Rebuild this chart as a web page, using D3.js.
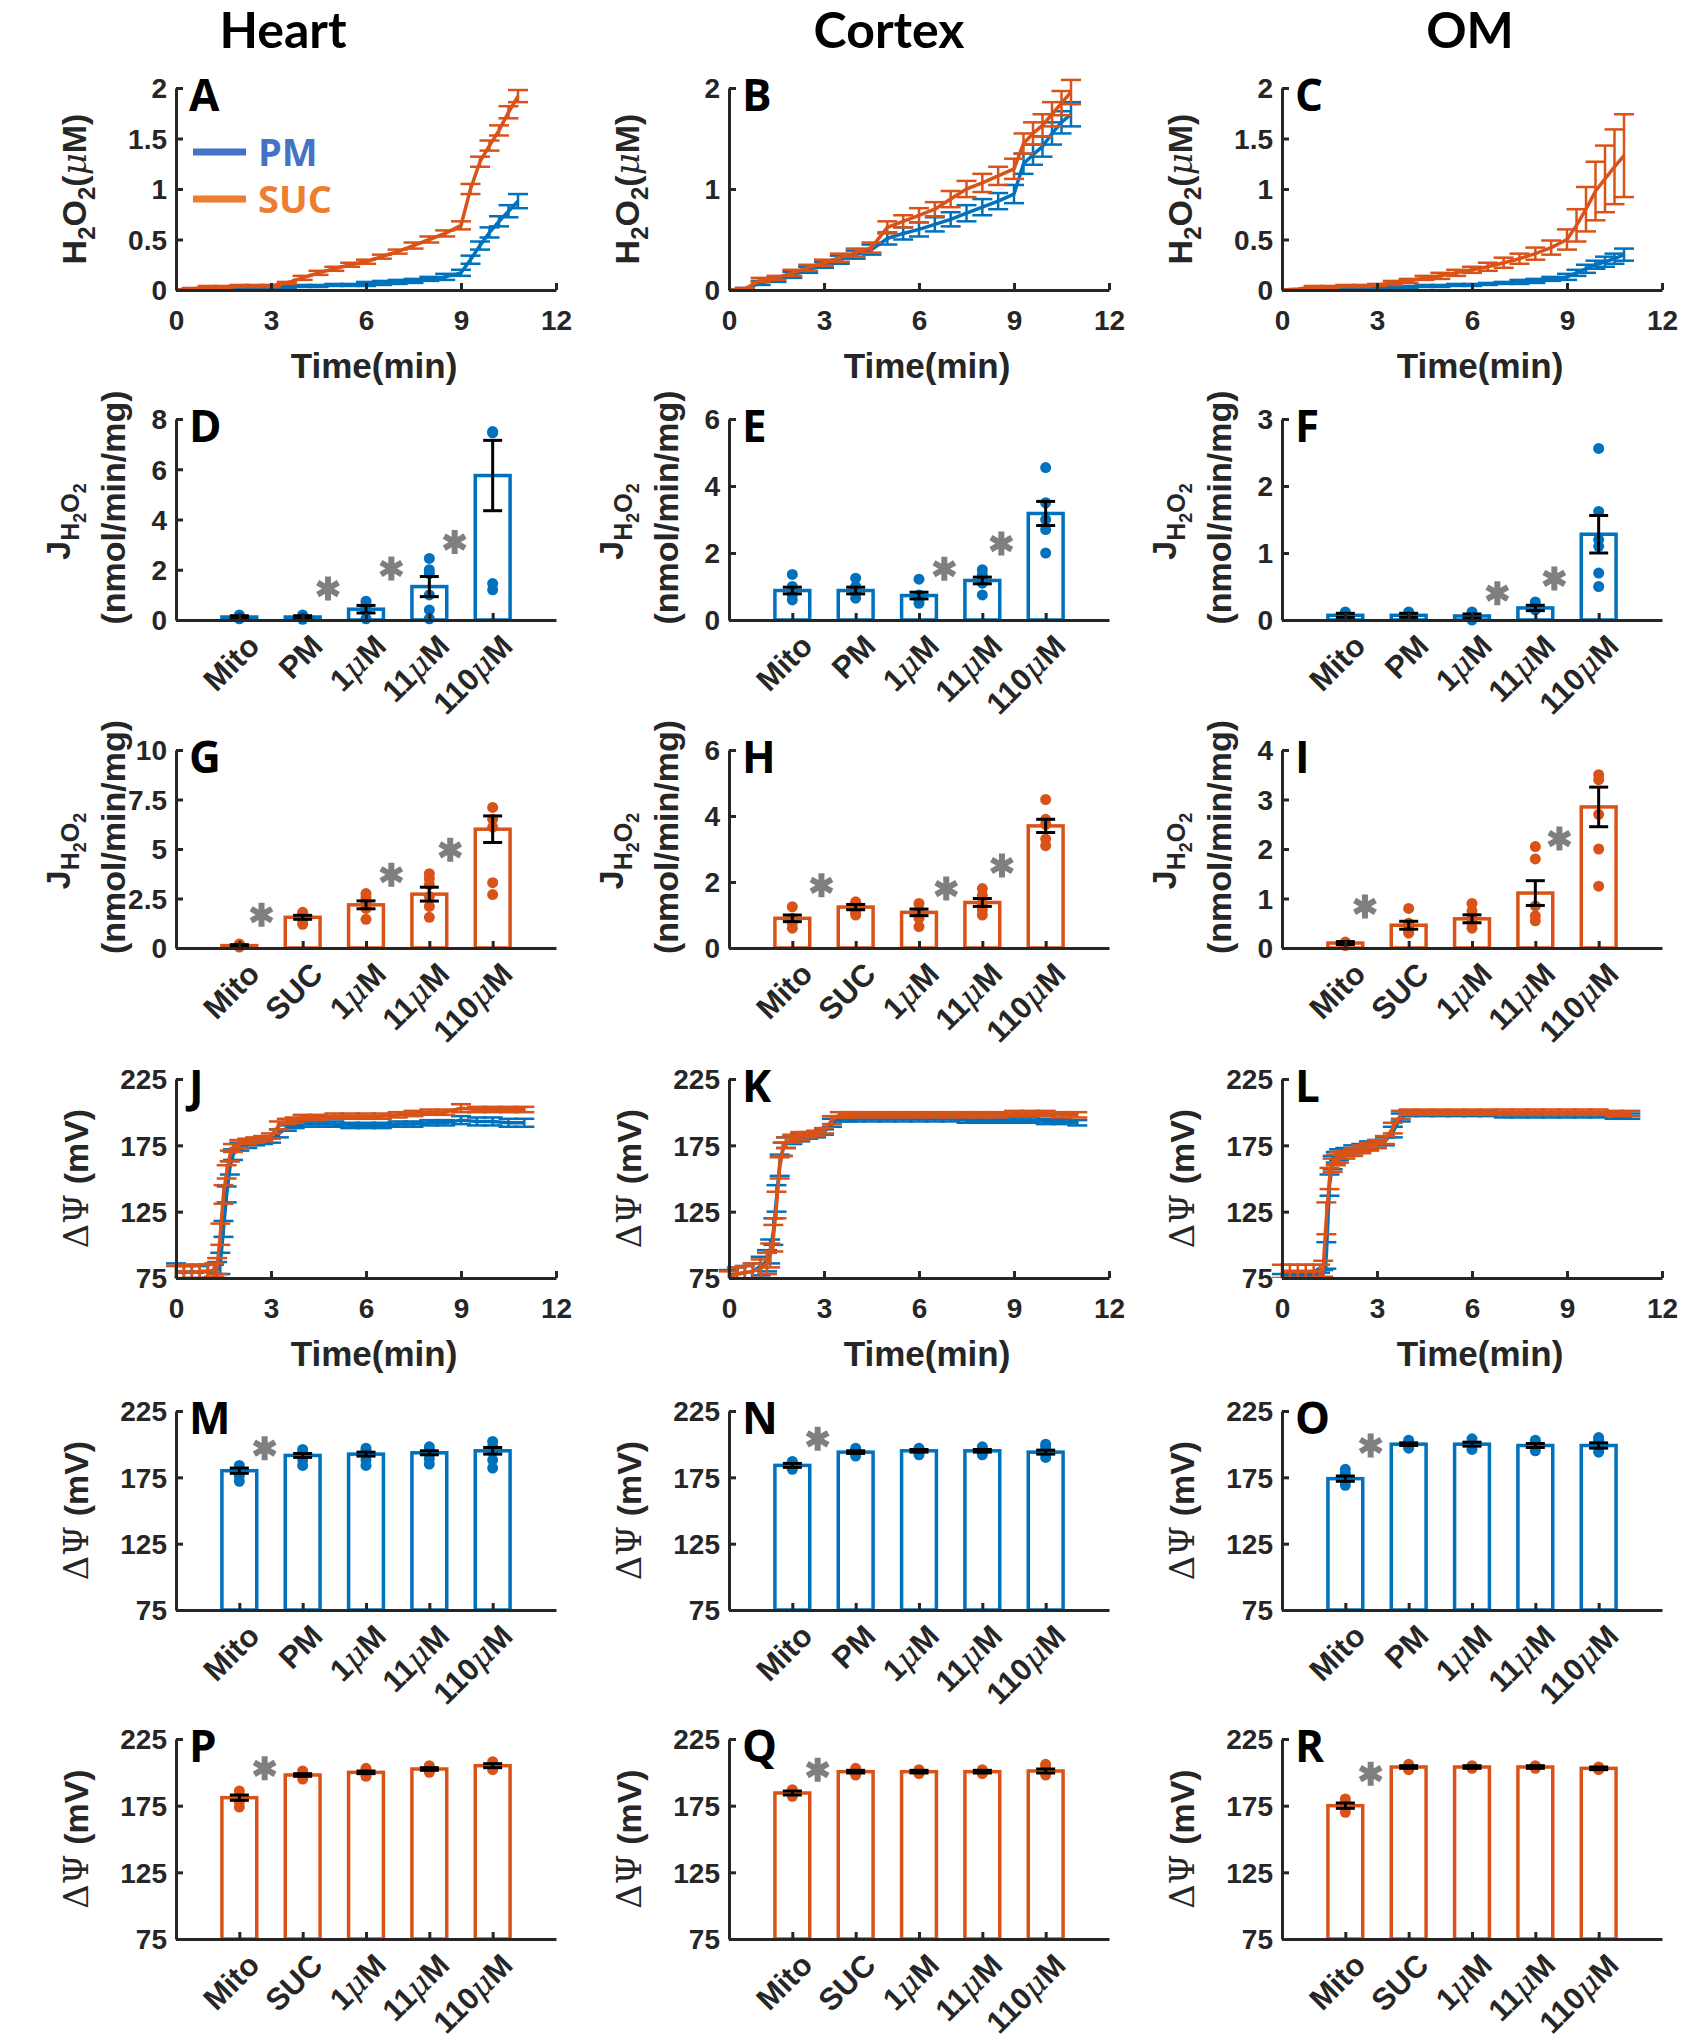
<!DOCTYPE html>
<html><head><meta charset="utf-8">
<script src="https://cdn.jsdelivr.net/npm/d3@7"></script>
<style>body{margin:0;background:#fff}</style>
</head><body>
<svg id="fig" width="1684" height="2040"></svg>
<script>
// ---------------- DATA ----------------
const columnTitles = ["Heart", "Cortex", "OM"];
const catsPM = ["Mito", "PM", "1μM", "11μM", "110μM"];
const catsSUC = ["Mito", "SUC", "1μM", "11μM", "110μM"];
const legendLabels = ["PM", "SUC"];

const lineTime = [0,0.5,1,1.5,2,2.5,3,3.5,4,4.5,5,5.5,6,6.5,7,7.5,8,8.5,9,9.3,9.6,9.9,10.2,10.5,10.8];
const heartPM     = [0,0,0.01,0.02,0.02,0.02,0.03,0.03,0.04,0.04,0.05,0.05,0.06,0.07,0.08,0.09,0.11,0.13,0.17,0.3,0.44,0.57,0.68,0.78,0.88];
const heartPMerr  = [0,0.01,0.01,0.01,0.01,0.01,0.01,0.01,0.01,0.01,0.01,0.01,0.02,0.02,0.02,0.02,0.02,0.03,0.03,0.04,0.04,0.05,0.05,0.06,0.07];
const heartSUC    = [0,0.01,0.03,0.03,0.04,0.04,0.04,0.07,0.12,0.17,0.21,0.25,0.28,0.33,0.38,0.44,0.5,0.56,0.64,1.0,1.27,1.43,1.58,1.76,1.92];
const heartSUCerr = [0,0.01,0.01,0.01,0.01,0.01,0.01,0.01,0.02,0.02,0.02,0.02,0.02,0.02,0.02,0.03,0.03,0.03,0.04,0.05,0.05,0.05,0.05,0.06,0.06];
const cortexPM     = [0,0.01,0.07,0.1,0.15,0.2,0.25,0.3,0.35,0.4,0.51,0.56,0.6,0.65,0.7,0.76,0.82,0.88,0.95,1.25,1.34,1.42,1.55,1.66,1.74];
const cortexPMerr  = [0,0.01,0.02,0.02,0.03,0.03,0.03,0.04,0.04,0.05,0.06,0.06,0.07,0.07,0.07,0.08,0.08,0.08,0.09,0.1,0.1,0.1,0.11,0.11,0.12];
const cortexSUC    = [0,0.01,0.1,0.12,0.17,0.22,0.27,0.32,0.37,0.42,0.62,0.68,0.74,0.8,0.9,1.0,1.06,1.13,1.2,1.45,1.55,1.63,1.74,1.85,1.96];
const cortexSUCerr = [0,0.01,0.02,0.02,0.03,0.03,0.03,0.04,0.04,0.05,0.06,0.06,0.07,0.07,0.08,0.08,0.09,0.09,0.1,0.1,0.11,0.11,0.12,0.12,0.12];
const omPM     = [0,0,0,0.01,0.01,0.02,0.02,0.03,0.03,0.04,0.04,0.05,0.05,0.06,0.07,0.08,0.09,0.11,0.13,0.17,0.21,0.25,0.28,0.31,0.35];
const omPMerr  = [0,0,0,0,0,0,0.01,0.01,0.01,0.01,0.01,0.01,0.01,0.01,0.01,0.02,0.02,0.02,0.03,0.03,0.04,0.04,0.05,0.05,0.06];
const omSUC    = [0,0.01,0.03,0.03,0.04,0.04,0.05,0.07,0.09,0.12,0.14,0.17,0.2,0.23,0.27,0.31,0.36,0.42,0.5,0.64,0.8,0.98,1.1,1.22,1.33];
const omSUCerr = [0,0,0.01,0.01,0.01,0.01,0.01,0.02,0.02,0.02,0.03,0.03,0.03,0.04,0.05,0.05,0.06,0.07,0.1,0.16,0.22,0.29,0.33,0.37,0.41];

const psiTime = [0,0.25,0.5,0.75,1,1.2,1.3,1.4,1.5,1.6,1.7,1.8,2,2.25,2.5,2.75,3,3.25,3.5,3.75,4,4.5,5,5.5,6,6.5,7,7.5,8,8.5,9,9.5,10,10.5,11];
const heartPsiPM     = [80,79,80,79,80,80,81,86,112,138,158,168,174,176,177,178,179,184,188,190,191,191,191,190,190,190,191,191,192,192,194,193,193,192,192];
const heartPsiPMerr  = [6,5,5,5,5,5,6,8,6,6,5,4,3,3,2,2,2,3,2,2,2,2,2,2,2,2,2,2,2,2,3,3,3,3,3];
const heartPsiSUC    = [79,80,79,80,80,81,84,108,138,155,167,173,176,178,179,180,182,190,193,194,196,196,197,197,197,197,198,199,200,200,203,202,202,202,202];
const heartPsiSUCerr = [5,5,5,5,5,5,6,8,7,5,4,3,3,2,2,2,2,3,2,2,2,2,2,2,2,2,2,2,2,2,3,2,2,2,2];
const cortexPsiPM     = [77,78,79,80,84,88,95,110,135,160,172,177,179,181,182,183,185,192,195,195,195,195,195,195,195,195,195,194,194,194,194,194,193,193,192];
const cortexPsiPMerr  = [4,5,5,6,7,8,9,10,10,8,5,4,3,3,2,2,2,3,2,2,2,2,2,2,2,2,2,2,2,2,2,2,2,2,2];
const cortexPsiSUC    = [76,78,79,80,82,86,92,105,130,158,172,177,180,182,183,184,186,194,198,198,198,198,198,198,198,198,198,198,198,198,199,199,199,198,198];
const cortexPsiSUCerr = [4,5,5,6,7,8,9,10,10,8,5,4,3,3,2,2,2,3,2,2,2,2,2,2,2,2,2,2,2,2,2,2,2,2,2];
const omPsiPM     = [76,76,76,76,77,77,78,92,145,162,166,168,170,172,173,175,176,178,185,196,199,199,199,199,199,199,198,198,198,198,198,198,198,197,197];
const omPsiPMerr  = [2,2,2,2,2,2,3,10,8,5,4,4,3,3,3,3,3,3,4,3,2,2,2,2,2,2,2,2,2,2,2,2,2,2,2];
const omPsiSUC    = [80,80,80,80,80,80,82,120,150,160,164,166,168,170,172,174,176,179,188,198,200,200,200,200,200,200,200,200,200,200,200,200,200,199,199];
const omPsiSUCerr = [5,5,5,5,5,5,6,12,8,5,4,4,3,3,3,3,3,3,4,3,2,2,2,2,2,2,2,2,2,2,2,2,2,2,2];

// Bar panels: means, SEM, individual points, significance stars (x,y in data units)
const rateHeartPM = [0.12,0.12,0.43,1.33,5.75];
const rateHeartPMerr = [0.05,0.05,0.15,0.4,1.4];
const rateHeartPMdots = [[0.05,0.12,0.2],[0.03,0.1,0.2],[0.05,0.35,0.5,0.6,0.75],[0.05,0.4,1.0,1.85,2.0,2.45],[7.5,7.45,1.45,1.2]];
const starHeartPMx = [2.4,3.4,4.4], starHeartPMy = [1.25,2.05,3.1];

const rateCortexPM = [0.88,0.88,0.73,1.18,3.18];
const rateCortexPMerr = [0.1,0.1,0.1,0.1,0.36];
const rateCortexPMdots = [[0.6,0.75,0.85,1.0,1.36],[0.65,0.8,0.9,1.0,1.25],[0.5,0.6,0.7,0.75,1.22],[0.75,1.1,1.2,1.35,1.5],[2.0,2.7,3.0,3.5,4.55]];
const starCortexPMx = [3.4,4.3], starCortexPMy = [1.53,2.28];

const rateOmPM = [0.07,0.07,0.06,0.18,1.28];
const rateOmPMerr = [0.03,0.03,0.03,0.04,0.28];
const rateOmPMdots = [[0.05,0.08,0.12],[0.05,0.08,0.12],[0.0,0.05,0.12],[0.15,0.2,0.27],[0.5,0.7,1.1,1.2,1.62,2.56]];
const starOmPMx = [3.4,4.3], starOmPMy = [0.4,0.62];

const rateHeartSUC = [0.12,1.55,2.18,2.72,6.0];
const rateHeartSUCerr = [0.05,0.1,0.2,0.35,0.67];
const rateHeartSUCdots = [[0.05,0.15,0.2],[1.2,1.4,1.55,1.7,1.8],[1.45,2.0,2.3,2.55,2.75],[1.55,2.1,2.6,3.2,3.5,3.75],[2.7,3.3,6.1,6.5,7.1]];
const starHeartSUCx = [1.35,3.4,4.33], starHeartSUCy = [1.68,3.7,4.96];

const rateCortexSUC = [0.9,1.24,1.08,1.38,3.7];
const rateCortexSUCerr = [0.1,0.08,0.1,0.12,0.2];
const rateCortexSUCdots = [[0.6,0.75,0.85,0.9,1.25],[1.0,1.1,1.2,1.3,1.4],[0.65,0.9,1.0,1.15,1.35],[1.0,1.15,1.35,1.6,1.8],[3.1,3.3,3.75,3.9,4.5]];
const starCortexSUCx = [1.46,3.43,4.31], starCortexSUCy = [1.9,1.8,2.5];

const rateOmSUC = [0.1,0.46,0.59,1.11,2.85];
const rateOmSUCerr = [0.03,0.08,0.08,0.25,0.4];
const rateOmSUCdots = [[0.05,0.1,0.12],[0.3,0.35,0.45,0.5,0.8],[0.4,0.5,0.6,0.75,0.9],[0.55,0.65,0.85,1.8,2.05],[1.25,2.0,2.7,3.4,3.5]];
const starOmSUCx = [1.31,4.38], starOmSUCy = [0.84,2.21];

const psiHeartPM = [180,191.5,192.5,193.5,195];
const psiHeartPMerr = [2,1.5,1.5,1.5,2.5];
const psiHeartPMdots = [[172,176,180,184],[184,188,191,193,196],[184,188,192,195,197],[185,189,193,196,198],[182,188,194,198,202]];
const starPsiHeartPMx = [1.4], starPsiHeartPMy = [197];

const psiCortexPM = [184,194,195,195,194];
const psiCortexPMerr = [1.5,1,1,1,1.5];
const psiCortexPMdots = [[181,183,185,187],[191,193,195,197],[192,194,196,197],[192,194,196,198],[190,193,195,198,200]];
const starPsiCortexPMx = [1.4], starPsiCortexPMy = [204];

const psiOmPM = [174,200,200,199,199];
const psiOmPMerr = [2,1,1.5,1.5,2];
const psiOmPMdots = [[169,172,175,178,181],[197,199,201,203],[196,199,201,204],[195,198,201,203],[194,197,200,203,205]];
const starPsiOmPMx = [1.4], starPsiOmPMy = [199];

const psiHeartSUC = [181,198,200,202.5,205];
const psiHeartSUCerr = [2,1,1,1,1.5];
const psiHeartSUCdots = [[174,178,182,186],[195,198,201],[197,200,203],[200,202.5,205],[202,205,208]];
const starPsiHeartSUCx = [1.4], starPsiHeartSUCy = [203];

const psiCortexSUC = [184.5,200.5,200.5,200.5,201];
const psiCortexSUCerr = [1.5,1,1,1,1.5];
const psiCortexSUCdots = [[182,184.5,187],[198,200.5,203],[199,200.5,202],[199,200.5,202],[198,201,204,206]];
const starPsiCortexSUCx = [1.4], starPsiCortexSUCy = [202];

const psiOmSUC = [175,204,204,204,203];
const psiOmSUCerr = [2,1,1,1,1];
const psiOmSUCdots = [[170,174,177,180],[202,204,206],[203,204,205],[203,204,205],[202,203,204]];
const starPsiOmSUCx = [1.4], starPsiOmSUCy = [199];

// ---------------- STYLE / LAYOUT ----------------
const BLUE = "#0072BD", ORANGE = "#D95319", AX = "#262626", STAR = "#7f7f7f";
const LEG_BLUE = "#4472C4", LEG_ORANGE = "#ED7D31";
const SANS = "'Liberation Sans', Arial, Helvetica, sans-serif";
const TITLEF = "'Open Sans', 'Noto Sans', sans-serif";
const HEADF = "Lato, 'Open Sans', sans-serif";
const SERIF = "'DejaVu Serif', serif";
const colX = [176, 729, 1282], W = 380;
const rowTop = [88, 419, 750, 1079, 1411, 1739];
const rowBot = [290, 620, 948, 1278, 1610, 1939];
const titleX = [283, 889, 1470];
const fmt = d3.format("~g");

const svg = d3.select("#fig");

// rich text helper
function rich(text, parts, base) {
  let shift = 0;
  parts.forEach(p => {
    const ts = text.append("tspan").text(p.t);
    const size = p.size || base;
    ts.attr("font-size", size);
    const target = p.shift || 0;
    if (target !== shift) { ts.attr("dy", target - shift); shift = target; }
    if (p.serif) ts.attr("font-family", SERIF).attr("font-weight", "normal");
    if (p.italic) ts.attr("font-style", "italic");
  });
}
function labelParts(s) {
  const i = s.indexOf("μ");
  if (i < 0) return [{t: s}];
  return [{t: s.slice(0, i)}, {t: "μ", serif: true, italic: true, size: 32}, {t: s.slice(i + 1)}];
}

function styleAxis(g) {
  g.select(".domain").attr("stroke", AX).attr("stroke-width", 3);
  g.selectAll(".tick line").attr("stroke", AX).attr("stroke-width", 3);
  g.selectAll(".tick text").attr("fill", AX).attr("font-family", SANS)
    .attr("font-weight", "bold").attr("font-size", 28);
}

function drawYAxis(y, x0, ticks) {
  const g = svg.append("g").attr("transform", `translate(${x0},0)`)
    .call(d3.axisLeft(y).tickValues(ticks).tickFormat(fmt).tickSize(-7).tickSizeOuter(0).tickPadding(10));
  styleAxis(g);
  g.selectAll(".tick text").attr("x", -9).attr("dy", "0.35em");
}

function drawLetter(p, x0, top) {
  svg.append("text").attr("x", x0 + 13).attr("y", top + 23).text(p.letter)
    .attr("font-family", TITLEF).attr("font-weight", "bold").attr("font-size", 44).attr("fill", "#000");
}

function drawYLabel(kind, x0, top, bot) {
  const yc = (top + bot) / 2;
  if (kind === "h2o2") {
    const t = svg.append("text").attr("transform", `translate(${x0 - 96},${yc}) rotate(-90)`)
      .attr("text-anchor", "middle").attr("dy", "0.35em")
      .attr("font-family", SANS).attr("font-weight", "bold").attr("fill", AX);
    rich(t, [{t: "H"}, {t: "2", size: 24, shift: 9}, {t: "O"}, {t: "2", size: 24, shift: 9}, {t: "("},
             {t: "μ", serif: true, italic: true}, {t: "M)"}], 34);
  } else if (kind === "psi") {
    const t = svg.append("text").attr("transform", `translate(${x0 - 94},${yc}) rotate(-90)`)
      .attr("text-anchor", "middle").attr("dy", "0.35em")
      .attr("font-family", SANS).attr("font-weight", "bold").attr("fill", AX);
    rich(t, [{t: "ΔΨ", serif: true}, {t: " (mV)"}], 34);
  } else {
    const t1 = svg.append("text").attr("transform", `translate(${x0 - 112},${yc + 2}) rotate(-90)`)
      .attr("text-anchor", "middle").attr("dy", "0.35em")
      .attr("font-family", SANS).attr("font-weight", "bold").attr("fill", AX);
    rich(t1, [{t: "J"}, {t: "H", size: 25, shift: 9}, {t: "2", size: 18, shift: 16},
              {t: "O", size: 25, shift: 9}, {t: "2", size: 18, shift: 16}], 34);
    svg.append("text").attr("transform", `translate(${x0 - 63},${yc - 12}) rotate(-90)`)
      .attr("text-anchor", "middle").attr("dy", "0.35em")
      .attr("font-family", SANS).attr("font-weight", "bold").attr("font-size", 34).attr("fill", AX)
      .text("(nmol/min/mg)");
  }
}

function drawLinePanel(p) {
  const x0 = colX[p.col], top = rowTop[p.row], bot = rowBot[p.row];
  const x = d3.scaleLinear().domain([0, 12]).range([x0, x0 + W]);
  const y = d3.scaleLinear().domain(p.ydom).range([bot, top]);
  const cid = "clip" + p.letter;
  svg.append("clipPath").attr("id", cid).append("rect")
    .attr("x", x0 - 12).attr("y", top - 40).attr("width", W + 24).attr("height", bot - top + 40);
  const dg = svg.append("g").attr("clip-path", `url(#${cid})`);
  p.series.forEach(s => {
    const sg = dg.append("g").attr("stroke", s.c).attr("fill", "none");
    p.t.forEach((t, i) => {
      if (!(s.e[i] > 0)) return;
      const xi = x(t), yl = y(s.v[i] - s.e[i]), yh = y(s.v[i] + s.e[i]);
      sg.append("line").attr("x1", xi).attr("x2", xi).attr("y1", yl).attr("y2", yh).attr("stroke-width", 2.5);
      sg.append("line").attr("x1", xi - 10).attr("x2", xi + 10).attr("y1", yl).attr("y2", yl).attr("stroke-width", 2.5);
      sg.append("line").attr("x1", xi - 10).attr("x2", xi + 10).attr("y1", yh).attr("y2", yh).attr("stroke-width", 2.5);
    });
    sg.append("path").attr("d", d3.line().x((d, i) => x(p.t[i])).y(d => y(d))(s.v))
      .attr("stroke-width", 3.5).attr("stroke-linejoin", "round");
  });
  // axes
  const gx = svg.append("g").attr("transform", `translate(0,${bot})`)
    .call(d3.axisBottom(x).tickValues([0, 3, 6, 9, 12]).tickFormat(fmt).tickSize(-7).tickSizeOuter(0));
  styleAxis(gx);
  gx.selectAll(".tick text").attr("y", 30).attr("dy", "0.35em");
  drawYAxis(y, x0, p.yticks);
  svg.append("text").attr("x", x0 + W / 2 + 8).attr("y", bot + 76).attr("dy", "0.35em")
    .attr("text-anchor", "middle").attr("font-family", SANS).attr("font-weight", "bold")
    .attr("font-size", 35).attr("fill", AX).text("Time(min)");
  drawYLabel(p.ylab, x0, top, bot);
  drawLetter(p, x0, top);
  if (p.legend) {
    const items = [{c: LEG_BLUE, t: legendLabels[0], y: 152}, {c: LEG_ORANGE, t: legendLabels[1], y: 199}];
    items.forEach(it => {
      svg.append("line").attr("x1", x0 + 17).attr("x2", x0 + 70).attr("y1", it.y).attr("y2", it.y)
        .attr("stroke", it.c).attr("stroke-width", 7);
      svg.append("text").attr("x", x0 + 82).attr("y", it.y).attr("dy", "0.36em").text(it.t)
        .attr("font-family", TITLEF).attr("font-weight", "bold").attr("font-size", 38).attr("fill", it.c);
    });
  }
}

function drawBarPanel(p) {
  const x0 = colX[p.col], top = rowTop[p.row], bot = rowBot[p.row];
  const x = d3.scaleLinear().domain([0, 6]).range([x0, x0 + W]);
  const y = d3.scaleLinear().domain(p.ydom).range([bot, top]);
  const bw = 0.55;
  const idx = d3.range(1, 6);
  const g = svg.append("g");
  g.selectAll("rect.bar").data(p.means).join("rect")
    .attr("x", (d, i) => x(idx[i] - bw / 2)).attr("width", x(bw) - x(0))
    .attr("y", d => y(d)).attr("height", d => y(p.ydom[0]) - y(d))
    .attr("fill", "#fff").attr("stroke", p.color).attr("stroke-width", 3.5);
  p.dots.forEach((arr, i) => {
    g.selectAll(null).data(arr).join("circle")
      .attr("cx", x(idx[i])).attr("cy", d => y(d)).attr("r", 5.5).attr("fill", p.color);
  });
  p.means.forEach((m, i) => {
    const xi = x(idx[i]), yl = y(m - p.errs[i]), yh = y(m + p.errs[i]);
    const cw = x(0.15) - x(0);
    g.append("line").attr("x1", xi).attr("x2", xi).attr("y1", yl).attr("y2", yh).attr("stroke", "#000").attr("stroke-width", 3);
    g.append("line").attr("x1", xi - cw).attr("x2", xi + cw).attr("y1", yl).attr("y2", yl).attr("stroke", "#000").attr("stroke-width", 3);
    g.append("line").attr("x1", xi - cw).attr("x2", xi + cw).attr("y1", yh).attr("y2", yh).attr("stroke", "#000").attr("stroke-width", 3);
  });
  // stars
  p.starX.forEach((sx, i) => {
    const cx = x(sx), cy = y(p.starY[i]), r = 12;
    const a = Math.PI / 6;
    const d = `M${cx},${cy - r}L${cx},${cy + r}` +
      `M${cx - r * Math.cos(a)},${cy - r * Math.sin(a)}L${cx + r * Math.cos(a)},${cy + r * Math.sin(a)}` +
      `M${cx - r * Math.cos(a)},${cy + r * Math.sin(a)}L${cx + r * Math.cos(a)},${cy - r * Math.sin(a)}`;
    g.append("path").attr("d", d).attr("stroke", STAR).attr("stroke-width", 6).attr("fill", "none");
  });
  // axes
  const gx = svg.append("g").attr("transform", `translate(0,${bot})`)
    .call(d3.axisBottom(x).tickValues(idx).tickSize(-7).tickSizeOuter(0).tickFormat(""));
  styleAxis(gx);
  gx.selectAll(".tick text").remove();
  p.cats.forEach((c, i) => {
    const t = svg.append("text")
      .attr("transform", `translate(${x(idx[i]) + 18},${bot + 24}) rotate(-45)`)
      .attr("text-anchor", "end").attr("dy", "0.35em")
      .attr("font-family", SANS).attr("font-weight", "bold").attr("fill", AX);
    rich(t, labelParts(c), 31);
  });
  drawYAxis(y, x0, p.yticks);
  drawYLabel(p.ylab, x0, top, bot);
  drawLetter(p, x0, top);
}

// column titles
columnTitles.forEach((t, i) => {
  svg.append("text").attr("x", titleX[i]).attr("y", 48).attr("text-anchor", "middle").text(t)
    .attr("font-family", HEADF).attr("font-weight", "bold").attr("font-size", 50).attr("fill", "#000");
});

const linePanels = [
  {letter: "A", col: 0, row: 0, ydom: [0, 2], yticks: [0, 0.5, 1, 1.5, 2], t: lineTime, ylab: "h2o2", legend: true,
   series: [{v: heartPM, e: heartPMerr, c: BLUE}, {v: heartSUC, e: heartSUCerr, c: ORANGE}]},
  {letter: "B", col: 1, row: 0, ydom: [0, 2], yticks: [0, 1, 2], t: lineTime, ylab: "h2o2",
   series: [{v: cortexPM, e: cortexPMerr, c: BLUE}, {v: cortexSUC, e: cortexSUCerr, c: ORANGE}]},
  {letter: "C", col: 2, row: 0, ydom: [0, 2], yticks: [0, 0.5, 1, 1.5, 2], t: lineTime, ylab: "h2o2",
   series: [{v: omPM, e: omPMerr, c: BLUE}, {v: omSUC, e: omSUCerr, c: ORANGE}]},
  {letter: "J", col: 0, row: 3, ydom: [75, 225], yticks: [75, 125, 175, 225], t: psiTime, ylab: "psi",
   series: [{v: heartPsiPM, e: heartPsiPMerr, c: BLUE}, {v: heartPsiSUC, e: heartPsiSUCerr, c: ORANGE}]},
  {letter: "K", col: 1, row: 3, ydom: [75, 225], yticks: [75, 125, 175, 225], t: psiTime, ylab: "psi",
   series: [{v: cortexPsiPM, e: cortexPsiPMerr, c: BLUE}, {v: cortexPsiSUC, e: cortexPsiSUCerr, c: ORANGE}]},
  {letter: "L", col: 2, row: 3, ydom: [75, 225], yticks: [75, 125, 175, 225], t: psiTime, ylab: "psi",
   series: [{v: omPsiPM, e: omPsiPMerr, c: BLUE}, {v: omPsiSUC, e: omPsiSUCerr, c: ORANGE}]}
];
const psiTicks = [75, 125, 175, 225];
const barPanels = [
  {letter: "D", col: 0, row: 1, ydom: [0, 8], yticks: [0, 2, 4, 6, 8], ylab: "rate", color: BLUE, cats: catsPM,
   means: rateHeartPM, errs: rateHeartPMerr, dots: rateHeartPMdots, starX: starHeartPMx, starY: starHeartPMy},
  {letter: "E", col: 1, row: 1, ydom: [0, 6], yticks: [0, 2, 4, 6], ylab: "rate", color: BLUE, cats: catsPM,
   means: rateCortexPM, errs: rateCortexPMerr, dots: rateCortexPMdots, starX: starCortexPMx, starY: starCortexPMy},
  {letter: "F", col: 2, row: 1, ydom: [0, 3], yticks: [0, 1, 2, 3], ylab: "rate", color: BLUE, cats: catsPM,
   means: rateOmPM, errs: rateOmPMerr, dots: rateOmPMdots, starX: starOmPMx, starY: starOmPMy},
  {letter: "G", col: 0, row: 2, ydom: [0, 10], yticks: [0, 2.5, 5, 7.5, 10], ylab: "rate", color: ORANGE, cats: catsSUC,
   means: rateHeartSUC, errs: rateHeartSUCerr, dots: rateHeartSUCdots, starX: starHeartSUCx, starY: starHeartSUCy},
  {letter: "H", col: 1, row: 2, ydom: [0, 6], yticks: [0, 2, 4, 6], ylab: "rate", color: ORANGE, cats: catsSUC,
   means: rateCortexSUC, errs: rateCortexSUCerr, dots: rateCortexSUCdots, starX: starCortexSUCx, starY: starCortexSUCy},
  {letter: "I", col: 2, row: 2, ydom: [0, 4], yticks: [0, 1, 2, 3, 4], ylab: "rate", color: ORANGE, cats: catsSUC,
   means: rateOmSUC, errs: rateOmSUCerr, dots: rateOmSUCdots, starX: starOmSUCx, starY: starOmSUCy},
  {letter: "M", col: 0, row: 4, ydom: [75, 225], yticks: psiTicks, ylab: "psi", color: BLUE, cats: catsPM,
   means: psiHeartPM, errs: psiHeartPMerr, dots: psiHeartPMdots, starX: starPsiHeartPMx, starY: starPsiHeartPMy},
  {letter: "N", col: 1, row: 4, ydom: [75, 225], yticks: psiTicks, ylab: "psi", color: BLUE, cats: catsPM,
   means: psiCortexPM, errs: psiCortexPMerr, dots: psiCortexPMdots, starX: starPsiCortexPMx, starY: starPsiCortexPMy},
  {letter: "O", col: 2, row: 4, ydom: [75, 225], yticks: psiTicks, ylab: "psi", color: BLUE, cats: catsPM,
   means: psiOmPM, errs: psiOmPMerr, dots: psiOmPMdots, starX: starPsiOmPMx, starY: starPsiOmPMy},
  {letter: "P", col: 0, row: 5, ydom: [75, 225], yticks: psiTicks, ylab: "psi", color: ORANGE, cats: catsSUC,
   means: psiHeartSUC, errs: psiHeartSUCerr, dots: psiHeartSUCdots, starX: starPsiHeartSUCx, starY: starPsiHeartSUCy},
  {letter: "Q", col: 1, row: 5, ydom: [75, 225], yticks: psiTicks, ylab: "psi", color: ORANGE, cats: catsSUC,
   means: psiCortexSUC, errs: psiCortexSUCerr, dots: psiCortexSUCdots, starX: starPsiCortexSUCx, starY: starPsiCortexSUCy},
  {letter: "R", col: 2, row: 5, ydom: [75, 225], yticks: psiTicks, ylab: "psi", color: ORANGE, cats: catsSUC,
   means: psiOmSUC, errs: psiOmSUCerr, dots: psiOmSUCdots, starX: starPsiOmSUCx, starY: starPsiOmSUCy}
];
linePanels.forEach(drawLinePanel);
barPanels.forEach(drawBarPanel);
</script>
</body></html>
